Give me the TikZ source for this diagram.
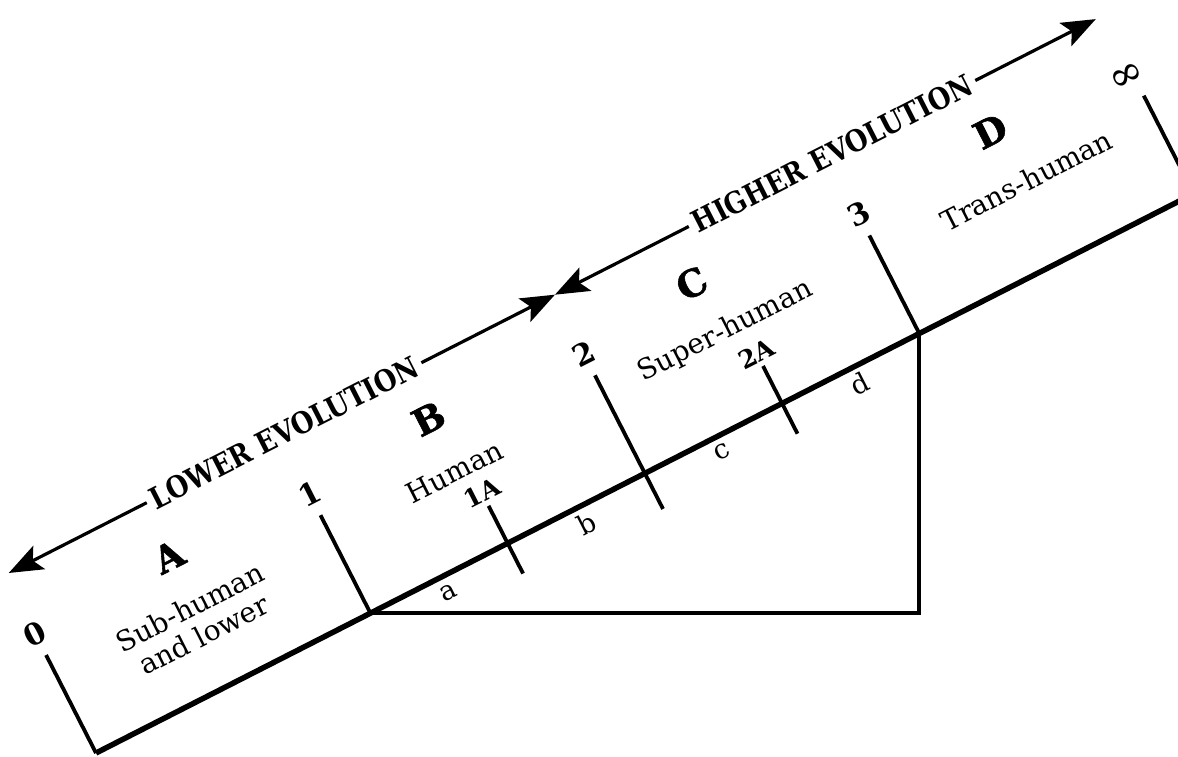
\documentclass[tikz,border=0pt]{standalone}
\usepackage{fontspec}
\setmainfont{DejaVu Serif}
\newfontfamily\heavyfont[FakeBold=1.6]{DejaVu Serif}
\newfontfamily\narrowfont[FakeStretch=0.86]{DejaVu Serif}
\usetikzlibrary{arrows.meta}

\begin{document}
\begin{tikzpicture}[
  x=1pt, y=1pt,
  axis/.style={line width=5.5pt},
  tick/.style={line width=3.8pt},
  arr/.style={line width=3.2pt, -{Stealth[length=34pt, width=26pt, inset=7pt]}},
  num/.style={font=\fontsize{30}{34}\selectfont\bfseries, inner sep=0pt},
  subnum/.style={font=\fontsize{25}{28}\selectfont\bfseries, inner sep=0pt},
  seg/.style={font=\fontsize{27}{30}\selectfont, inner sep=0pt},
  zone/.style={font=\fontsize{37}{40}\selectfont\heavyfont\bfseries, inner sep=0pt},
  desc/.style={font=\fontsize{28}{31}\selectfont, align=center, inner sep=0pt},
  evo/.style={font=\fontsize{30}{34}\selectfont\narrowfont\bfseries, inner sep=5pt}
]
\useasboundingbox (0,0) rectangle (1178,756);

\begin{scope}[shift={(96,3)}, rotate=27, transform shape]
  % points of the scale and the tops of their ticks
  \foreach \i/\s in {0/0, 1/308, 2/616, 3/924, 4/1232} {
    \coordinate (p\i) at (\s,0);
    \coordinate (t\i) at (\s,110);
  }
  \coordinate (q2) at (616,-40);
  \coordinate (m1) at (462,0);
  \coordinate (m1t) at (462,42);
  \coordinate (m1b) at (462,-34);
  \coordinate (m2) at (770,0);
  \coordinate (m2t) at (770,42);
  \coordinate (m2b) at (770,-34);
  \coordinate (pend) at (1320,0);

  % arrow ends
  \coordinate (eL) at (4,200);
  \coordinate (eM) at (617,200);
  \coordinate (eR) at (1224,200);

  \draw[axis] (p0) -- (pend);
  \draw[tick] (p0) -- (t0);
  \draw[tick] (p1) -- (t1);
  \draw[tick] (q2) -- (t2);
  \draw[tick] (p3) -- (t3);
  \draw[tick] (p4) -- (t4);
  \draw[tick] (m1b) -- (m1t);
  \draw[tick] (m2b) -- (m2t);

  \node[num] (n0) at (0,134) {0};
  \node[num] (n1) at (308,134) {1};
  \node[num] (n2) at (616,134) {2};
  \node[num] (n3) at (924,134) {3};
  \node[font=\fontsize{42}{44}\selectfont, inner sep=0pt] (n4) at (1226,134) {∞};
  \node[subnum] (n1a) at (462,57) {1A};
  \node[subnum] (n2a) at (770,56) {2A};

  \node[seg] (sa) at (387,-17) {a};
  \node[seg] (sb) at (541,-18) {b};
  \node[seg] (sc) at (695,-16) {c};
  \node[seg] (sd) at (848,-18) {d};

  \node[zone] (za) at (154,142) {A};
  \node[zone] (zb) at (448,147) {B};
  \node[zone] (zc) at (744,148) {C};
  \node[zone] (zd) at (1079,148) {D};

  \node[desc] (da) at (150,72) {Sub-human\\and lower};
  \node[desc] (db) at (447,88) {Human};
  \node[desc] (dc) at (752,90) {Super-human};
  \node[desc] (dd) at (1089,88) {Trans-human};

  \node[evo] (lower) at (313,200) {LOWER EVOLUTION};
  \node[evo] (higher) at (928,200) {HIGHER EVOLUTION};
  \draw[arr] (lower.west) -- (eL);
  \draw[arr] (lower.east) -- (eM);
  \draw[arr] (higher.west) -- (eM);
  \draw[arr] (higher.east) -- (eR);
\end{scope}

\draw[tick] (p1) -- (p1 -| p3) -- (p3);
\end{tikzpicture}
\end{document}
